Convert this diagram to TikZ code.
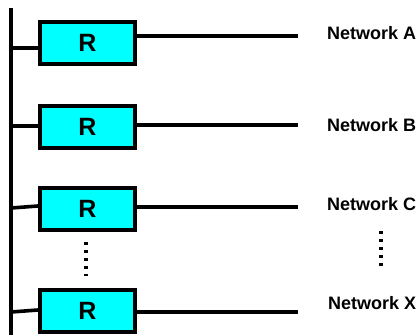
\documentclass[tikz,border=0pt]{standalone}
\usepackage{fontspec}
\setmainfont{Liberation Sans}
\definecolor{routercyan}{RGB}{0,255,255}
\begin{document}
\begin{tikzpicture}[x=1pt,y=-1pt,
  router/.style={draw=black,line width=3.6pt,fill=routercyan,minimum width=95.5pt,minimum height=42.5pt,inner sep=0pt,font=\bfseries\fontsize{25}{27}\selectfont},
  netlabel/.style={anchor=west,inner sep=0pt,font=\bfseries\fontsize{18}{20}\selectfont},
  wire/.style={line width=3.6pt},
  dotline/.style={line width=3.4pt,dash pattern=on 3.4pt off 4.6pt}]
\useasboundingbox (0,0) rectangle (419,334);
% bus
\coordinate (bt) at (11,8);
\coordinate (bb) at (11,336);
\draw[wire] (bt) -- (bb);
% routers
\node[router] (r1) at (87.5,43) {R};
\node[router] (r2) at (87.5,127) {R};
\node[router] (r3) at (87.5,209) {R};
\node[router] (r4) at (87.5,311) {R};
% bus stubs
\coordinate (s1) at (11,48);
\coordinate (s2) at (11,126);
\coordinate (s3) at (11,208);
\coordinate (s4) at (11,312);
\draw[wire] (s1) -- (r1.west |- s1);
\draw[wire] (s2) -- (r2.west |- s2);
\draw[wire] (s3) -- (r3.west |- 0,206);
\draw[wire] (s4) -- (r4.west |- 0,310);
% network lines
\coordinate (e1) at (298,36);
\coordinate (e2) at (298,125);
\coordinate (e3) at (298,207);
\coordinate (e4) at (298,312);
\draw[wire] (r1.east |- e1) -- (e1);
\draw[wire] (r2.east |- e2) -- (e2);
\draw[wire] (r3.east |- e3) -- (e3);
\draw[wire] (r4.east |- e4) -- (e4);
% labels
\node[netlabel] (na) at (327,33) {Network A};
\node[netlabel] (nb) at (327,125) {Network B};
\node[netlabel] (nc) at (327,204) {Network C};
\node[netlabel] (nx) at (328,303) {Network X};
% dots
\coordinate (d1) at (86,242);
\coordinate (d2) at (86,276);
\draw[dotline] (d1) -- (d2);
\coordinate (d3) at (381,231);
\coordinate (d4) at (381,267);
\draw[dotline] (d3) -- (d4);
\end{tikzpicture}
\end{document}
